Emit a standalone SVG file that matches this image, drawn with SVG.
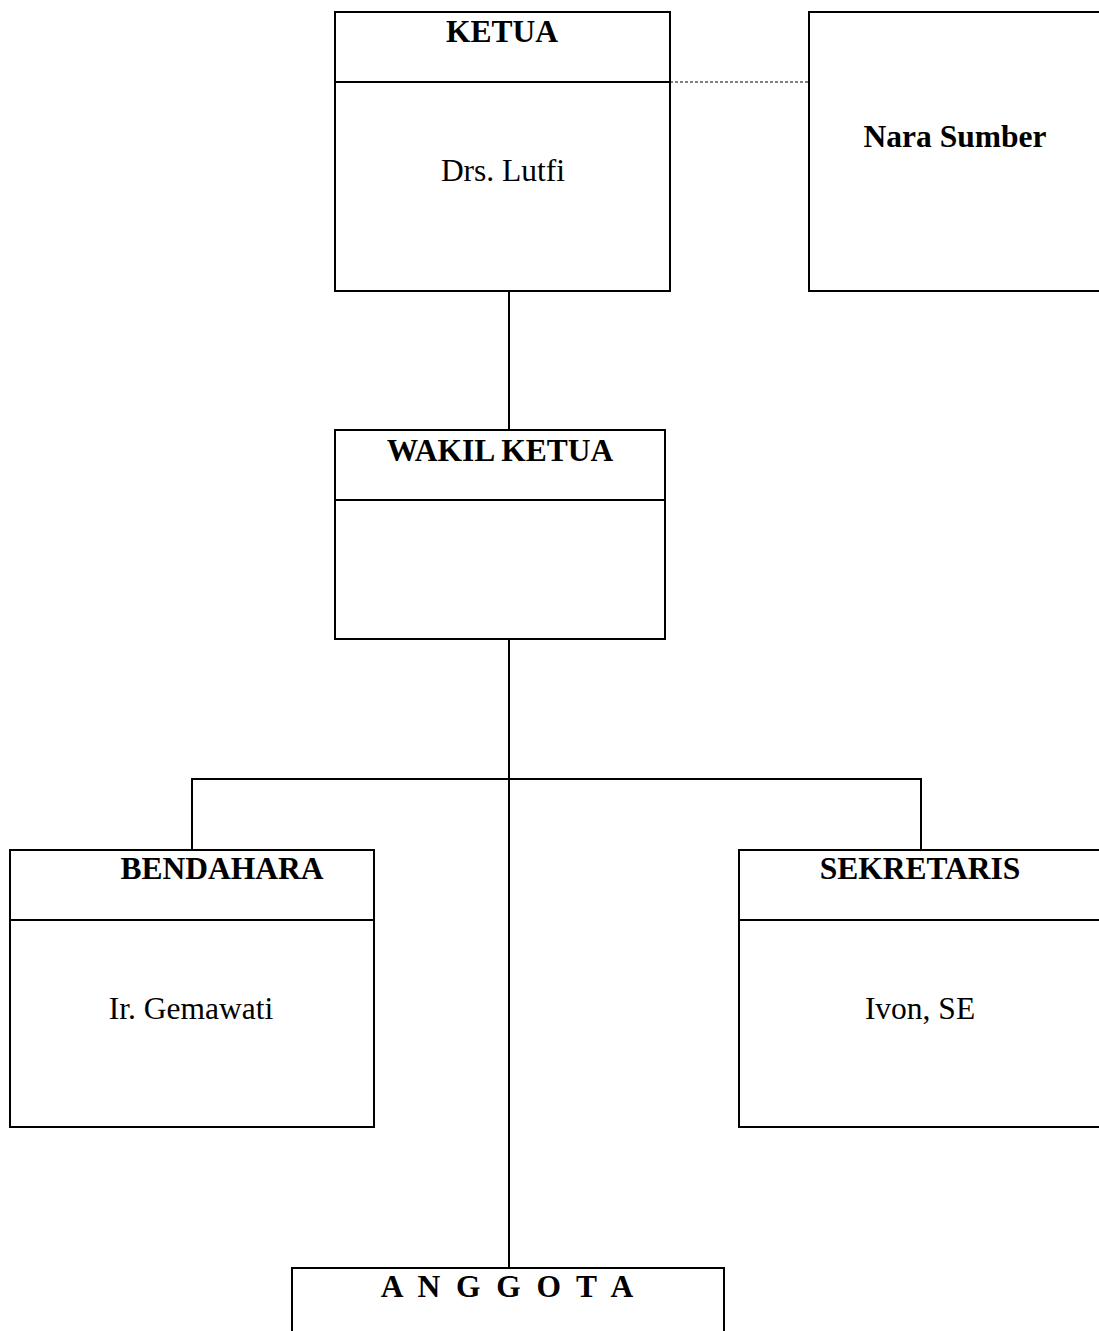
<svg xmlns="http://www.w3.org/2000/svg" width="1099" height="1331" viewBox="0 0 1099 1331">
<style>
.box{fill:#fff;stroke:#000;stroke-width:2}
.div{stroke:#000;stroke-width:2}
.conn{stroke:#000;stroke-width:2;fill:none}
.dash{stroke:#000;stroke-width:1;stroke-dasharray:3 2;fill:none}
.t{font-family:"Liberation Serif","Times New Roman",serif;font-size:31.5px;fill:#000;text-anchor:middle}
.b{font-weight:bold}
</style>
<rect width="1099" height="1331" fill="#fff"/>
<g id="connectors">
<line class="dash" x1="670" y1="82" x2="809" y2="82"/>
<line class="conn" x1="509" y1="291" x2="509" y2="430"/>
<line class="conn" x1="509" y1="639" x2="509" y2="1268"/>
<polyline class="conn" points="192,850 192,779 921,779 921,850"/>
</g>
<g id="ketua">
<rect class="box" x="335" y="12" width="335" height="279"/>
<line class="div" x1="335" y1="82" x2="670" y2="82"/>
<text class="t b" x="502" y="42">KETUA</text>
<text class="t" x="503" y="181">Drs. Lutfi</text>
</g>
<g id="nara-sumber">
<rect class="box" x="809" y="12" width="320" height="279"/>
<text class="t b" x="955" y="147">Nara Sumber</text>
</g>
<g id="wakil-ketua">
<rect class="box" x="335" y="430" width="330" height="209"/>
<line class="div" x1="335" y1="500" x2="665" y2="500"/>
<text class="t b" x="500" y="461">WAKIL KETUA</text>
</g>
<g id="bendahara">
<rect class="box" x="10" y="850" width="364" height="277"/>
<line class="div" x1="10" y1="920" x2="374" y2="920"/>
<text class="t b" x="222" y="879">BENDAHARA</text>
<text class="t" x="191" y="1019">Ir. Gemawati</text>
</g>
<g id="sekretaris">
<rect class="box" x="739" y="850" width="400" height="277"/>
<line class="div" x1="739" y1="920" x2="1139" y2="920"/>
<text class="t b" x="920" y="879">SEKRETARIS</text>
<text class="t" x="920" y="1019">Ivon, SE</text>
</g>
<g id="anggota">
<rect class="box" x="292" y="1268" width="432" height="100"/>
<text class="t b" x="507" y="1297" xml:space="preserve">A  N  G  G  O  T  A</text>
</g>
</svg>
